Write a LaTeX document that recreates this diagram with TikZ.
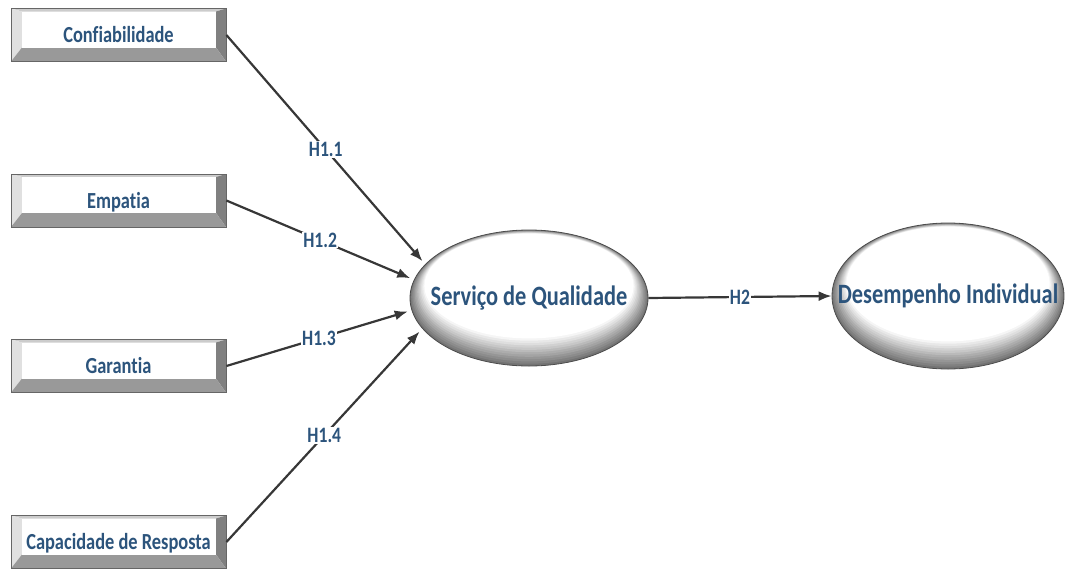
\documentclass[tikz,border=0pt]{standalone}
\usepackage{fontspec}
\usepackage{tikz}
\usetikzlibrary{shapes.geometric,arrows.meta}
\newfontfamily\diagfont{Carlito}[FakeStretch=0.8, Ligatures=NoCommon]
\definecolor{txtblue}{RGB}{44,84,124}
\definecolor{linegray}{RGB}{55,55,55}

\begin{document}
\begin{tikzpicture}[x=1pt,y=-1pt,
    factor/.style={rectangle, draw=black!60, line width=0.8pt, inner sep=0pt,
      minimum width=215pt, minimum height=53pt, text height=17pt, text depth=2pt,
      text=txtblue, font=\diagfont\bfseries\fontsize{23}{23}\selectfont,
      path picture={
        \coordinate (bnw) at (path picture bounding box.north west);
        \coordinate (bne) at (path picture bounding box.north east);
        \coordinate (bsw) at (path picture bounding box.south west);
        \coordinate (bse) at (path picture bounding box.south east);
        \fill[black!20] (bnw) -- (bne) -- ([xshift=-10pt,yshift=-3pt]bne) -- ([xshift=11pt,yshift=-3pt]bnw) -- cycle;
        \fill[black!12] (bnw) -- ([xshift=11pt,yshift=-3pt]bnw) -- ([xshift=11pt,yshift=14pt]bsw) -- (bsw) -- cycle;
        \fill[black!50] (bne) -- (bse) -- ([xshift=-10pt,yshift=14pt]bse) -- ([xshift=-10pt,yshift=-3pt]bne) -- cycle;
        \fill[black!40] (bsw) -- (bse) -- ([xshift=-10pt,yshift=14pt]bse) -- ([xshift=11pt,yshift=14pt]bsw) -- cycle;
        \fill[white] ([xshift=11pt,yshift=-3pt]bnw) rectangle ([xshift=-10pt,yshift=14pt]bse);
      }},
    latent/.style 2 args={ellipse, draw=black!70, line width=0.8pt, inner sep=0pt,
      minimum width=2*#1, minimum height=2*#2,
      text=txtblue, font=\diagfont\bfseries\fontsize{28}{28}\selectfont,
      path picture={
        \foreach \k [evaluate=\k as \c using int(55-55*\k/12)] in {0,...,12}
          \fill[black!\c] ([yshift={1pt*\k}]path picture bounding box.center)
            ellipse [x radius={#1-1.2pt*\k}, y radius={#2-1.3pt*\k}];
      }},
    path/.style={draw=linegray, line width=2.2pt, -{Latex[length=13pt,width=10pt]}},
    hyp/.style={fill=white, inner sep=1pt, text=txtblue,
      font=\diagfont\bfseries\fontsize{22}{22}\selectfont}]
  \useasboundingbox (0,0) rectangle (1067,570);

  \node[factor] (conf) at (118.5,35) {Confiabilidade};
  \node[factor] (emp) at (118.5,200.5) {Empatia};
  \node[factor] (gar) at (118.5,366) {Garantia};
  \node[factor] (cap) at (118.5,542) {Capacidade de Resposta};

  \node[latent={119pt}{68pt}] (sq) at (529,298) {\makebox[0pt]{Serviço de Qualidade}};
  \node[latent={116pt}{73pt}] (di) at (948,296) {\makebox[0pt]{Desempenho Individual}};

  \draw[path, shorten >=4pt] (conf.east) -- node[hyp] {H1.1} (sq.162.5);
  \draw[path, shorten >=4pt] (emp.east) -- node[hyp] {H1.2} (sq.171);
  \draw[path, shorten >=4pt] (gar.east) -- node[hyp] {H1.3} (sq.186);
  \draw[path, shorten >=4pt] (cap.east) -- node[hyp] {H1.4} (sq.196.5);
  \draw[path] (sq.east) -- node[hyp] {H2} (di.west);
\end{tikzpicture}
\end{document}
